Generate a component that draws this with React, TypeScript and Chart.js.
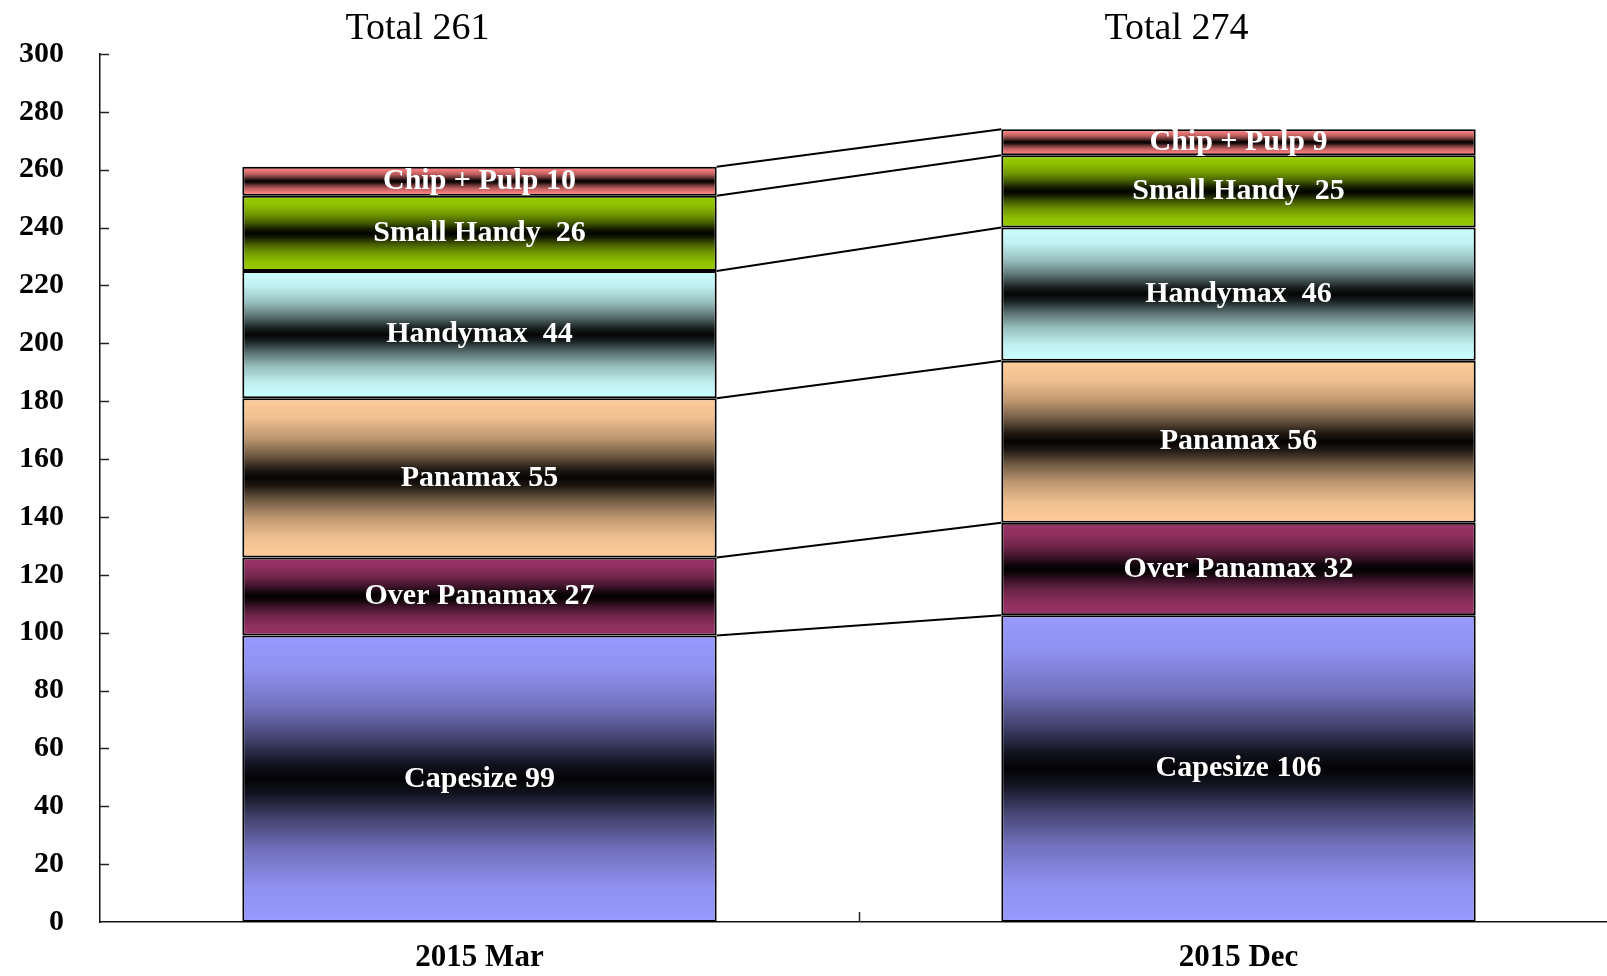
import React, { useEffect, useRef } from "react";
import { Chart, registerables } from "chart.js";

Chart.register(...registerables);

const categories = ["2015 Mar", "2015 Dec"];
const segmentNames = ["Capesize", "Over Panamax", "Panamax", "Handymax", "Small Handy", "Chip + Pulp"];
const labelSeparators = [" ", " ", " ", "  ", "  ", " "];
const capesize = [99, 106];
const overPanamax = [27, 32];
const panamax = [55, 56];
const handymax = [44, 46];
const smallHandy = [26, 25];
const chipPulp = [10, 9];
const totals = [261, 274];
const segmentColors = ["#9999FF", "#993366", "#FFCC99", "#CCFFFF", "#99CC00", "#FF8080"];
const yMin = 0;
const yMax = 300;
const yStep = 20;

const series = [capesize, overPanamax, panamax, handymax, smallHandy, chipPulp];

const SERIF = "'Liberation Serif', 'Times New Roman', serif";

function hexToRgb(hex: string) {
  const h = hex.replace("#", "");
  return [parseInt(h.slice(0, 2), 16), parseInt(h.slice(2, 4), 16), parseInt(h.slice(4, 6), 16)];
}
function shade(hex: string, f: number) {
  const [r, g, b] = hexToRgb(hex);
  return `rgb(${Math.round(r * f)},${Math.round(g * f)},${Math.round(b * f)})`;
}

function gradientFor(d: number) {
  return (ctx: any) => {
    const color = segmentColors[d];
    const chart = ctx.chart;
    const y = chart.scales && chart.scales.y;
    if (!y || ctx.type !== "data") return color;
    const i = ctx.dataIndex;
    let base = 0;
    for (let k = 0; k < d; k++) base += series[k][i];
    const top = base + series[d][i];
    const yTop = y.getPixelForValue(top);
    const yBot = y.getPixelForValue(base);
    if (!isFinite(yTop) || !isFinite(yBot) || yTop === yBot) return color;
    const g = chart.ctx.createLinearGradient(0, yTop, 0, yBot);
    const stops: [number, number][] = [
      [0, 1], [0.12, 0.94], [0.25, 0.74], [0.36, 0.44], [0.45, 0.12], [0.5, 0.02],
      [0.55, 0.12], [0.64, 0.44], [0.75, 0.74], [0.88, 0.94], [1, 1],
    ];
    stops.forEach(([p, f]) => g.addColorStop(p, shade(color, f)));
    return g;
  };
}

const overlayPlugin = {
  id: "overlay",
  afterDatasetsDraw(chart: any) {
    const c = chart.ctx;
    const ys = chart.scales.y;
    const xs = chart.scales.x;
    const area = chart.chartArea;
    c.save();

    // connector lines between stacks
    c.strokeStyle = "#000";
    c.lineWidth = 2;
    for (let d = 0; d < series.length; d++) {
      const meta = chart.getDatasetMeta(d);
      const b0: any = meta.data[0];
      const b1: any = meta.data[1];
      let s0 = 0, s1 = 0;
      for (let k = 0; k <= d; k++) { s0 += series[k][0]; s1 += series[k][1]; }
      c.beginPath();
      c.moveTo(b0.x + b0.width / 2, ys.getPixelForValue(s0));
      c.lineTo(b1.x - b1.width / 2, ys.getPixelForValue(s1));
      c.stroke();
    }

    // inward tick marks
    c.strokeStyle = "#222";
    c.lineWidth = 1.5;
    for (let v = yMin + yStep; v <= yMax; v += yStep) {
      const py = Math.round(ys.getPixelForValue(v)) + 0.5;
      c.beginPath();
      c.moveTo(area.left, py);
      c.lineTo(area.left + 9, py);
      c.stroke();
    }
    const mx = Math.round(xs.getPixelForValue(0.5)) + 0.5;
    c.beginPath();
    c.moveTo(mx, area.bottom);
    c.lineTo(mx, area.bottom - 10);
    c.stroke();

    // segment labels
    c.fillStyle = "#fff";
    c.font = `bold 30px ${SERIF}`;
    c.textAlign = "center";
    c.textBaseline = "middle";
    for (let d = 0; d < series.length; d++) {
      const meta = chart.getDatasetMeta(d);
      meta.data.forEach((bar: any, i: number) => {
        const text = segmentNames[d] + labelSeparators[d] + series[d][i];
        c.fillText(text, bar.x, (bar.y + bar.base) / 2);
      });
    }

    // totals
    c.fillStyle = "#000";
    c.font = `38px ${SERIF}`;
    const topMeta = chart.getDatasetMeta(series.length - 1);
    topMeta.data.forEach((bar: any, i: number) => {
      c.fillText("Total " + totals[i], bar.x - 62, area.top - 25);
    });
    c.restore();
  },
};

export default function App() {
  const ref = useRef<HTMLCanvasElement | null>(null);
  useEffect(() => {
    if (!ref.current) return;
    const chart = new Chart(ref.current, {
      type: "bar",
      data: {
        labels: categories,
        datasets: series.map((vals, d) => ({
          label: segmentNames[d],
          data: vals,
          backgroundColor: gradientFor(d),
          borderColor: "#000",
          borderWidth: 2,
          borderSkipped: false,
          barPercentage: 0.625,
          categoryPercentage: 1,
        })),
      },
      options: {
        responsive: false,
        animation: false,
        layout: { padding: { top: 49, left: 0, right: 0, bottom: 0 } },
        plugins: {
          legend: { display: false },
          tooltip: { enabled: false },
          title: { display: false },
        },
        scales: {
          x: {
            stacked: true,
            grid: { display: false, drawTicks: false },
            border: { display: true, color: "#111", width: 1.5 },
            ticks: {
              color: "#000",
              font: { family: SERIF, size: 31, weight: "bold" },
              padding: 17,
            },
            afterFit: (s: any) => { s.height = 53; },
          },
          y: {
            stacked: true,
            min: yMin,
            max: yMax,
            grid: { display: false, drawTicks: false },
            border: { display: true, color: "#111", width: 1.5 },
            ticks: {
              stepSize: yStep,
              color: "#000",
              font: { family: SERIF, size: 30, weight: "bold" },
              padding: 36,
            },
            afterFit: (s: any) => { s.width = 100; },
          },
        },
      },
      plugins: [overlayPlugin],
    });
    return () => chart.destroy();
  }, []);
  return (
    <div style={{ position: "absolute", left: 0, top: 0, width: 1607, height: 976, overflow: "hidden", background: "#fff" }}>
      <canvas ref={ref} width={1618} height={976} style={{ display: "block" }} />
    </div>
  );
}
